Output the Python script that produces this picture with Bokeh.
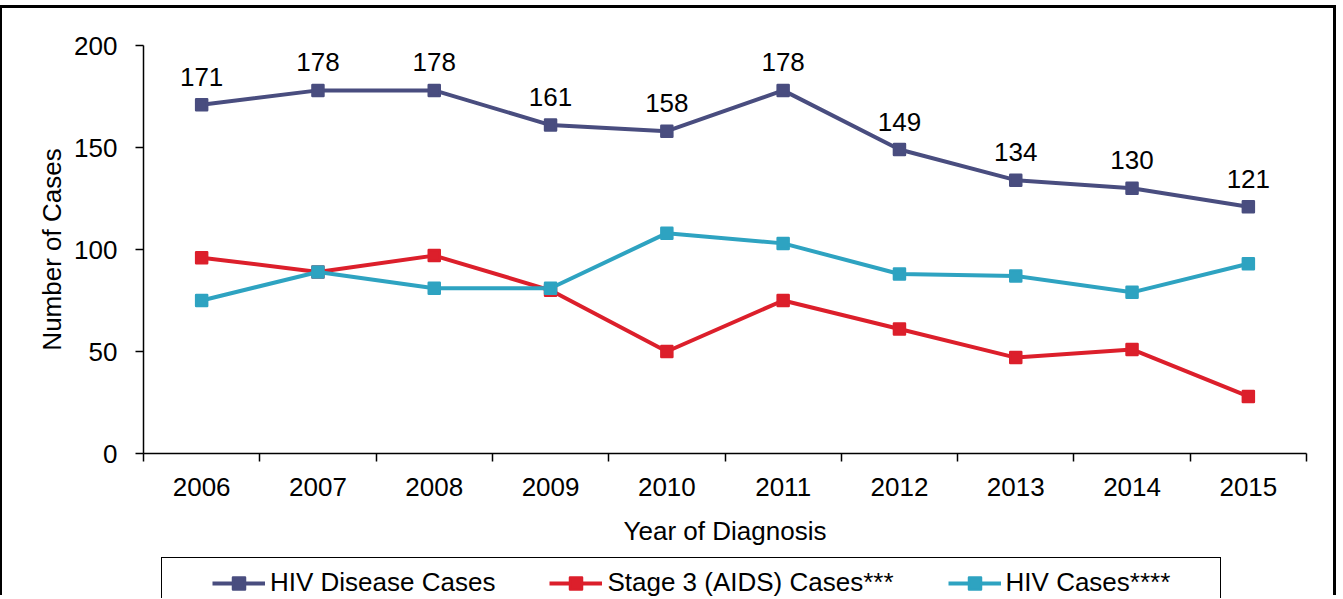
from bokeh.plotting import figure
from bokeh.models import (ColumnDataSource, FixedTicker, Range1d, LabelSet, Legend,
                          LegendItem)
from bokeh.core.properties import value
from bokeh.embed import file_html
from bokeh.resources import INLINE

# ---- data ----
years = [2006, 2007, 2008, 2009, 2010, 2011, 2012, 2013, 2014, 2015]
hiv_disease = [171, 178, 178, 161, 158, 178, 149, 134, 130, 121]
stage3 = [96, 89, 97, 80, 50, 75, 61, 47, 51, 28]
hiv_cases = [75, 89, 81, 81, 108, 103, 88, 87, 79, 93]
y_ticks = [0, 50, 100, 150, 200]
series_names = ["HIV Disease Cases", "Stage 3 (AIDS) Cases***", "HIV Cases****"]
series_colors = ["#494D7F", "#DC1F2B", "#2EA3C1"]
x_title = "Year of Diagnosis"
y_title = "Number of Cases"

FONT = "Liberation Sans"
FS = "26px"

# ---- layout (canvas pixels) ----
W, H = 1336, 590
PL, PR, PT, PB = 141, 1304, 37, 445     # plot-area edges
x_lo, x_hi = years[0] - 0.5, years[-1] + 0.5
y_lo, y_hi = y_ticks[0], y_ticks[-1]
xs = (x_hi - x_lo) / (PR - PL)
ys = (y_hi - y_lo) / (PB - PT)

p = figure(width=W, height=H,
           x_range=Range1d(x_lo - PL * xs, x_hi + (W - PR) * xs),
           y_range=Range1d(y_lo - (H - PB) * ys, y_hi + PT * ys),
           output_backend="svg", toolbar_location=None,
           x_axis_location=None, y_axis_location=None)
p.min_border_left = 0
p.min_border_right = 0
p.min_border_top = 0
p.min_border_bottom = 0
p.title.visible = False
p.styles = {"border-left": "2px solid black", "border-right": "3px solid black",
            "border-top": "3px solid black", "margin-top": "5px"}
p.xgrid.visible = False
p.ygrid.visible = False
p.outline_line_color = None
p.background_fill_color = "white"
p.border_fill_color = "white"

from bokeh.models import LinearAxis

xa = LinearAxis(fixed_location=y_lo, bounds=(x_lo, x_hi))
xa.ticker = FixedTicker(ticks=years, minor_ticks=[y - 0.5 for y in years] + [x_hi])
xa.major_label_overrides = {y: str(y) for y in years}
xa.major_tick_in = 0
xa.major_tick_out = 0
xa.minor_tick_in = 0
xa.minor_tick_out = 8
xa.minor_tick_line_color = "black"
xa.minor_tick_line_width = 1.5
xa.axis_line_color = "black"
xa.axis_line_width = 1.5
xa.major_label_standoff = 16
xa.major_label_text_font = FONT
xa.major_label_text_font_size = FS
xa.major_label_text_color = "black"
xa.axis_label = x_title
xa.axis_label_text_font = FONT
xa.axis_label_text_font_size = FS
xa.axis_label_text_font_style = "normal"
xa.axis_label_text_color = "black"
xa.axis_label_standoff = 17
p.add_layout(xa, "below")

ya = LinearAxis(fixed_location=x_lo, bounds=(y_lo, y_hi))
ya.ticker = FixedTicker(ticks=y_ticks, minor_ticks=[])
ya.major_tick_in = 0
ya.major_tick_out = 8
ya.major_tick_line_color = "black"
ya.major_tick_line_width = 1.5
ya.minor_tick_out = 0
ya.minor_tick_in = 0
ya.axis_line_color = "black"
ya.axis_line_width = 1.5
ya.major_label_standoff = 18
ya.major_label_text_font = FONT
ya.major_label_text_font_size = FS
ya.major_label_text_color = "black"
ya.axis_label = y_title
ya.axis_label_text_font = FONT
ya.axis_label_text_font_size = FS
ya.axis_label_text_font_style = "normal"
ya.axis_label_text_color = "black"
ya.axis_label_standoff = 4
p.add_layout(ya, "left")

items = []
for vals, color, name in zip([hiv_disease, stage3, hiv_cases], series_colors, series_names):
    src = ColumnDataSource(dict(x=years, y=vals))
    r1 = p.line("x", "y", source=src, line_color=color, line_width=4)
    r2 = p.scatter("x", "y", source=src, marker="square", size=11,
                   fill_color=color, line_color=color, line_width=2.5, line_join="round")
    items.append(LegendItem(label=name, renderers=[r1, r2]))

lab_src = ColumnDataSource(dict(x=years, y=hiv_disease, t=[str(v) for v in hiv_disease]))
p.add_layout(LabelSet(x="x", y="y", text="t", source=lab_src, y_offset=19,
                      text_align="center", text_baseline="alphabetic",
                      text_font=value(FONT), text_font_size=FS, text_color="black"))

# legend frame (a legend with one blank entry, used only for its border)
box_r = p.line(x=[], y=[], line_alpha=0)
box_legend = Legend(items=[LegendItem(label=" ", renderers=[box_r])],
                    location=(159, -21), padding=0, margin=0,
                    glyph_width=0, glyph_height=60, label_standoff=0,
                    label_width=1058, label_height=60, label_text_font_size="1px",
                    border_line_color="black", border_line_width=1.3, border_line_alpha=1,
                    background_fill_color="white", background_fill_alpha=1)
p.add_layout(box_legend)

legend = Legend(items=items, orientation="horizontal", location=(210, 0),
                padding=0, margin=0, spacing=54, glyph_width=53, glyph_height=30,
                label_standoff=5,
                label_text_font=FONT, label_text_font_size=FS, label_text_color="black",
                border_line_alpha=0, background_fill_alpha=0)
p.add_layout(legend)

open("out.html", "w").write(file_html(p, INLINE))
